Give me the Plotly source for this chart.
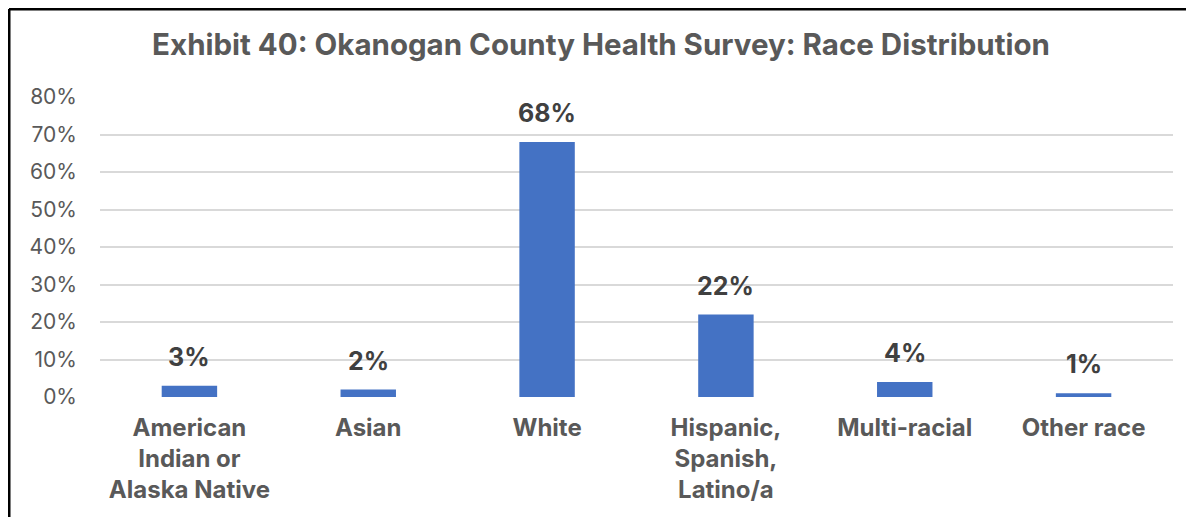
import plotly.graph_objects as go

categories = [
    "American<br>Indian or<br>Alaska Native",
    "Asian",
    "White",
    "Hispanic,<br>Spanish,<br>Latino/a",
    "Multi-racial",
    "Other race",
]
shares = [0.03, 0.02, 0.68, 0.22, 0.04, 0.01]
y_ticks = [0, 0.1, 0.2, 0.3, 0.4, 0.5, 0.6, 0.7, 0.8]

FONT = "Inter, Open Sans, sans-serif"
GREY = "#595959"

fig = go.Figure(go.Bar(
    x=categories,
    y=shares,
    marker_color="#4472C4",
    marker_line_width=0,
    hovertemplate="%{y:.0%}<extra></extra>",
))

# value labels sit a bit higher above the bars than plotly's "outside" text
for cat, val in zip(categories, shares):
    fig.add_annotation(
        x=cat, y=val, text=f"<b>{val:.0%}</b>",
        showarrow=False, yanchor="bottom", yshift=12,
        font=dict(family=FONT, size=25, color="#404040"),
    )

# page body has an 8px margin, so the figure is sized to fit the window without scrollbars
fig.update_layout(
    width=1186,
    height=509,
    plot_bgcolor="white",
    paper_bgcolor="white",
    margin=dict(l=92, r=21, t=89, b=120),
    bargap=0.69,
    showlegend=False,
    title=dict(
        text="<b>Exhibit 40: Okanogan County Health Survey: Race Distribution</b>",
        x=0.5, xanchor="center", y=0.928, yanchor="middle",
        font=dict(family=FONT, size=29.5, color=GREY),
    ),
    xaxis=dict(
        showgrid=False,
        showline=False,
        ticks="",
        ticklabelstandoff=14,
        tickfont=dict(family=FONT, size=24, color=GREY, weight="bold"),
    ),
    yaxis=dict(
        range=[0, 0.8],
        tickvals=y_ticks,
        tickformat=".0%",
        gridcolor="#D9D9D9",
        gridwidth=1.5,
        zeroline=False,
        showline=False,
        ticks="",
        ticklabelstandoff=22,
        tickfont=dict(family=FONT, size=21, color=GREY),
    ),
    shapes=[
        dict(type="line", xref="paper", yref="paper",
             x0=-0.0848, x1=-0.0848, y0=1.2933, y1=-0.45,
             line=dict(color="black", width=3)),
        dict(type="line", xref="paper", yref="paper",
             x0=-0.0848, x1=1.0196, y0=1.2933, y1=1.2933,
             line=dict(color="black", width=3)),
    ],
)

fig.write_html("out.html", config={"displayModeBar": False})
